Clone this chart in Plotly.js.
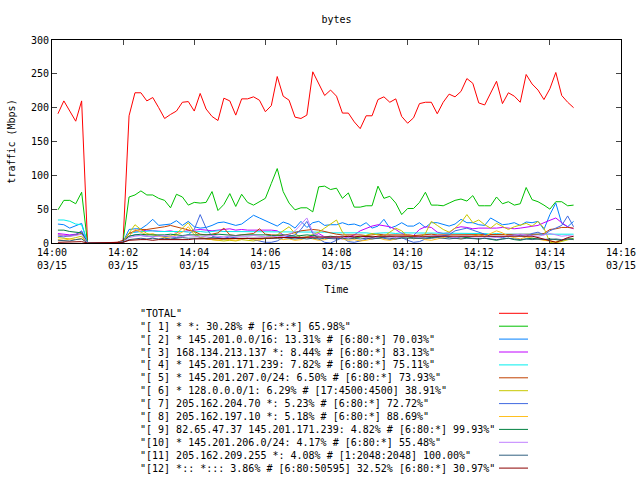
<!DOCTYPE html>
<html>
<head>
<meta charset="utf-8">
<script src="https://cdn.plot.ly/plotly-3.0.1.min.js"></script>
<style>
  html, body { margin: 0; padding: 0; background: #fff; }
  #myDiv { width: 640px; height: 480px; }
</style>
</head>
<body>
<div id="myDiv"></div>
<script>
    // samples every 10 s, from 14:00:10 to 14:14:40 (88 points)
    var sampleDay = '2010-03-15';
    var firstSecond = 10;
    var stepSeconds = 10;

    var seriesNames = [
        '"TOTAL"',
        '"[ 1] * *: 30.28% # [6:*:*] 65.98%"',
        '"[ 2] * 145.201.0.0/16: 13.31% # [6:80:*] 70.03%"',
        '"[ 3] 168.134.213.137 *: 8.44% # [6:80:*] 83.13%"',
        '"[ 4] * 145.201.171.239: 7.82% # [6:80:*] 75.11%"',
        '"[ 5] * 145.201.207.0/24: 6.50% # [6:80:*] 73.93%"',
        '"[ 6] * 128.0.0.0/1: 6.29% # [17:4500:4500] 38.91%"',
        '"[ 7] 205.162.204.70 *: 5.23% # [6:80:*] 72.72%"',
        '"[ 8] 205.162.197.10 *: 5.18% # [6:80:*] 88.69%"',
        '"[ 9] 82.65.47.37 145.201.171.239: 4.82% # [6:80:*] 99.93%"',
        '"[10] * 145.201.206.0/24: 4.17% # [6:80:*] 55.48%"',
        '"[11] 205.162.209.255 *: 4.08% # [1:2048:2048] 100.00%"',
        '"[12] *:: *::: 3.86% # [6:80:50595] 32.52% [6:80:*] 30.97%"'
    ];

    var seriesColors = [
        '#ff0000', '#00c000', '#0080ff', '#c000ff', '#00eeee', '#c04000', '#c8c800',
        '#4169e1', '#ffc020', '#008040', '#c080ff', '#306080', '#8b0000'
    ];

    var total = [
        191, 210, 195, 180, 210, 0, 0, 0, 0, 0, 1,
        4, 188, 222, 222, 210, 215, 200, 184, 190, 195, 208, 209,
        195, 221, 198, 187, 181, 214, 210, 189, 213, 213, 216, 211,
        194, 203, 246, 217, 211, 186, 184, 189, 253, 235, 218, 226,
        217, 192, 192, 179, 169, 188, 188, 212, 216, 208, 213, 187,
        177, 185, 206, 208, 208, 191, 208, 220, 216, 224, 243, 236,
        207, 204, 221, 239, 206, 222, 217, 208, 249, 235, 226, 212,
        228, 252, 218, 208, 200
    ];
    var s1 = [
        49, 63, 63, 58, 75, 0, 0, 0, 0, 0, 0.5,
        3, 68, 71, 77, 71, 71, 66, 63, 52, 72, 68, 56,
        60, 59, 60, 76, 48, 57, 73, 54, 72, 60, 56, 61,
        66, 88, 110, 76, 59, 49, 52, 52, 46, 83, 84, 79,
        81, 66, 74, 53, 53, 55, 55, 84, 66, 69, 59, 42,
        51, 51, 60, 75, 56, 56, 55, 59, 63, 65, 62, 70,
        55, 55, 55, 68, 58, 61, 56, 58, 82, 64, 61, 56,
        50, 61, 61, 55, 56
    ];
    var s2 = [
        28, 27, 22, 25, 29, 0, 0, 0, 0, 0, 0.3,
        2, 20, 21, 21, 27, 35, 26, 27, 28, 33, 26, 32,
        24, 22, 23, 26, 30, 31, 28, 26, 28, 35, 41, 37,
        33, 30, 25, 31, 28, 22, 32, 23, 30, 32, 26, 27,
        27, 30, 27, 28, 25, 30, 22, 25, 35, 22, 25, 30,
        25, 25, 30, 23, 30, 30, 28, 25, 28, 35, 30, 30,
        27, 26, 37, 32, 27, 28, 30, 26, 31, 30, 32, 20,
        42, 59, 29, 24, 32
    ];
    var s3 = [
        14, 13, 12, 13, 17, 0, 0, 0, 0, 0, 0.5,
        2, 14, 16, 18, 19, 18, 17, 17, 18, 16, 17, 18,
        19, 20, 19, 18, 19, 20, 21, 19, 20, 19, 19, 20,
        20, 19, 18, 12, 9, 8, 7, 9, 10, 14, 9, 8,
        7, 6, 9, 12, 18, 22, 25, 27, 26, 24, 20, 14,
        12, 11, 20, 24, 23, 16, 14, 15, 22, 24, 23, 21,
        22, 22, 21, 22, 23, 22, 21, 22, 23, 24, 26, 30,
        34, 37, 30, 24, 21
    ];
    var s4 = [
        34, 34, 32, 28, 27, 0, 0, 0, 0, 0, 0.3,
        2, 14, 16, 17, 17, 18, 17, 17, 18, 17, 17, 16,
        17, 17, 16, 17, 18, 17, 17, 16, 17, 17, 17, 16,
        17, 16, 16, 17, 16, 16, 17, 16, 17, 16, 16, 15,
        15, 15, 15, 16, 15, 15, 14, 15, 15, 15, 14, 15,
        15, 15, 14, 15, 15, 15, 14, 15, 15, 14, 15, 15,
        14, 14, 13, 14, 13, 13, 13, 14, 13, 13, 13, 13,
        13, 13, 14, 13, 13
    ];
    var s5 = [
        12, 11, 10, 12, 14, 0, 0, 0, 0, 0, 0.3,
        2, 14, 18, 20, 20, 21, 23, 24, 26, 24, 22, 19,
        17, 13, 12, 13, 15, 22, 12, 11, 12, 13, 14, 21,
        13, 12, 12, 11, 13, 16, 18, 19, 20, 19, 17, 14,
        13, 12, 12, 13, 12, 11, 12, 13, 12, 12, 13, 12,
        12, 11, 12, 12, 13, 12, 12, 13, 12, 12, 13, 12,
        12, 12, 13, 12, 12, 12, 13, 12, 12, 12, 13, 14,
        20, 21, 23, 23, 22
    ];
    var s6 = [
        8, 7, 6, 8, 10, 0, 0, 0, 0, 0, 0.3,
        2, 15, 27, 20, 14, 12, 10, 9, 11, 14, 22, 30,
        16, 8, 6, 5, 4, 3, 4, 3, 5, 4, 3, 5,
        6, 8, 12, 18, 24, 14, 8, 9, 12, 16, 22, 28,
        34, 16, 8, 6, 9, 11, 14, 12, 10, 16, 22, 18,
        10, 6, 8, 14, 32, 26, 20, 16, 22, 30, 42, 30,
        34, 27, 22, 29, 25, 20, 24, 26, 29, 25, 32, 22,
        1, 0, 2, 5, 7
    ];
    var s7 = [
        10, 9, 11, 12, 18, 0, 0, 0, 0, 0, 0.3,
        2, 10, 12, 11, 10, 9, 11, 10, 9, 8, 10, 12,
        20, 42, 22, 10, 8, 7, 9, 8, 6, 7, 5, 3,
        1, 1, 3, 8, 10, 12, 20, 32, 14, 6, 1, 0,
        4, 8, 2, 1, 3, 6, 8, 9, 7, 5, 6, 8,
        4, 1, 2, 6, 8, 9, 10, 12, 18, 20, 22, 19,
        16, 12, 10, 9, 8, 10, 12, 11, 10, 14, 16, 12,
        18, 22, 26, 40, 24
    ];
    var s8 = [
        5, 4, 6, 5, 7, 0, 0, 0, 0, 0, 0.2,
        1, 10, 20, 16, 12, 14, 10, 8, 9, 12, 16, 24,
        12, 8, 6, 5, 4, 6, 5, 4, 6, 7, 5, 4,
        8, 10, 7, 5, 6, 4, 5, 8, 6, 4, 5, 7,
        10, 6, 4, 5, 3, 4, 6, 8, 5, 4, 6, 9,
        12, 10, 7, 5, 4, 6, 8, 10, 7, 6, 8, 10,
        12, 10, 14, 18, 15, 10, 8, 6, 9, 7, 5, 4,
        3, 2, 4, 6, 5
    ];
    var s9 = [
        19, 19, 17, 16, 15, 0, 0, 0, 0, 0, 0.3,
        2, 10, 12, 13, 12, 12, 11, 12, 13, 12, 11, 12,
        12, 12, 11, 12, 13, 12, 12, 11, 12, 12, 13, 12,
        12, 11, 12, 12, 11, 10, 11, 12, 11, 10, 9, 10,
        9, 10, 9, 8, 9, 10, 9, 7, 9, 10, 8, 9,
        9, 8, 7, 9, 8, 9, 10, 8, 7, 9, 8, 7,
        6, 7, 6, 4, 6, 7, 5, 4, 6, 7, 6, 5,
        6, 5, 4, 6, 6
    ];
    var s10 = [
        12, 11, 10, 11, 13, 0, 0, 0, 0, 0, 0.3,
        2, 8, 10, 11, 10, 9, 10, 11, 10, 9, 10, 11,
        10, 9, 10, 11, 10, 9, 10, 10, 9, 10, 11, 10,
        9, 10, 9, 10, 12, 18, 28, 37, 16, 10, 9, 8,
        9, 10, 8, 9, 10, 8, 7, 9, 10, 9, 8, 9,
        10, 9, 8, 9, 10, 11, 10, 9, 8, 9, 10, 9,
        9, 10, 9, 8, 9, 11, 12, 13, 12, 11, 10, 12,
        14, 12, 10, 11, 10
    ];
    var s11 = [
        4, 4, 3, 5, 6, 0, 0, 0, 0, 0, 0.2,
        1, 5, 6, 7, 6, 7, 6, 7, 6, 7, 8, 7,
        7, 6, 7, 8, 7, 6, 7, 7, 6, 7, 6, 7,
        7, 6, 7, 8, 7, 6, 7, 6, 7, 6, 7, 6,
        6, 7, 6, 7, 6, 7, 6, 7, 8, 7, 6, 7,
        7, 6, 7, 6, 7, 8, 7, 6, 7, 6, 7, 6,
        6, 7, 6, 5, 6, 7, 6, 5, 6, 5, 6, 5,
        5, 6, 5, 6, 5
    ];
    var s12 = [
        1, 1, 1, 1, 2, 0, 0, 0, 0, 0, 0.2,
        1, 4, 5, 5, 5, 4, 5, 5, 5, 4, 5, 5,
        6, 6, 6, 7, 6, 6, 7, 7, 6, 7, 7, 7,
        7, 7, 8, 8, 8, 8, 9, 9, 9, 9, 9, 9,
        9, 9, 10, 9, 10, 9, 9, 10, 10, 9, 10, 10,
        10, 10, 9, 10, 10, 10, 10, 9, 10, 10, 10, 10,
        10, 10, 10, 9, 10, 10, 10, 9, 10, 10, 8, 6,
        3, 1, 4, 8, 10
    ];

    var allSeries = [total, s1, s2, s3, s4, s5, s6, s7, s8, s9, s10, s11, s12];

    function pad(n) { return (n < 10 ? '0' : '') + n; }

    var times = total.map(function(_, i) {
        var s = firstSecond + i * stepSeconds;
        return sampleDay + ' 14:' + pad(Math.floor(s / 60)) + ':' + pad(s % 60);
    });

    var data = allSeries.map(function(ys, k) {
        return {
            type: 'scatter',
            mode: 'lines',
            x: times,
            y: ys,
            name: seriesNames[k],
            line: {color: seriesColors[k], width: 1}
        };
    });

    // gnuplot-style key below the plot: text on the left, line sample on the right
    var plotLeft = 52, plotRight = 621, plotTop = 40, plotBottom = 243;
    function px(x) { return (x - plotLeft) / (plotRight - plotLeft); }
    function py(y) { return (plotBottom - y) / (plotBottom - plotTop); }

    var annotations = [];
    var shapes = [];
    seriesNames.forEach(function(name, k) {
        var rowY = 313.3 + 12.9 * k;
        annotations.push({
            xref: 'paper', yref: 'paper',
            x: px(138), y: py(rowY),
            xanchor: 'left', yanchor: 'middle',
            text: name, showarrow: false,
            font: {size: 10, color: '#000'}
        });
        shapes.push({
            type: 'line', xref: 'paper', yref: 'paper',
            x0: px(499), x1: px(528), y0: py(rowY), y1: py(rowY),
            line: {color: seriesColors[k], width: 1}
        });
    });

    var layout = {
        width: 640,
        height: 480,
        margin: {l: 52, r: 19, t: 40, b: 237},
        paper_bgcolor: '#ffffff',
        plot_bgcolor: '#ffffff',
        showlegend: false,
        font: {family: 'DejaVu Sans Mono, monospace', size: 10, color: '#000'},
        title: {
            text: 'bytes',
            xref: 'paper', x: 0.5,
            yref: 'container', y: 1 - 19 / 480, yanchor: 'middle',
            font: {size: 10}
        },
        xaxis: {
            type: 'date',
            range: [sampleDay + ' 14:00:00', sampleDay + ' 14:16:00'],
            tick0: sampleDay + ' 14:00:00',
            dtick: 120000,
            tickformat: '%H:%M<br>%m/%d',
            ticks: 'inside',
            ticklen: 5,
            showline: true,
            linecolor: '#000',
            linewidth: 1,
            mirror: 'ticks',
            showgrid: false,
            zeroline: false,
            title: {text: 'Time', standoff: 15, font: {size: 10}}
        },
        yaxis: {
            range: [0, 300],
            dtick: 50,
            ticks: 'inside',
            ticklen: 5,
            showline: true,
            linecolor: '#000',
            linewidth: 1,
            mirror: 'ticks',
            showgrid: false,
            zeroline: false,
            title: {text: 'traffic (Mbps)', standoff: 13, font: {size: 10}}
        },
        annotations: annotations,
        shapes: shapes
    };

    Plotly.newPlot('myDiv', data, layout, {displayModeBar: false, staticPlot: true});
</script>
</body>
</html>
